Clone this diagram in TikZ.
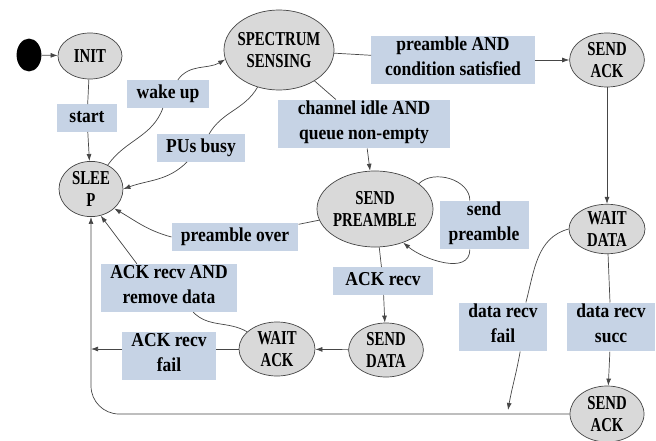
\documentclass[tikz,border=0pt]{standalone}
\usepackage{fontspec}
\setmainfont{Liberation Serif}[FakeStretch=0.89]
\newfontfamily\statefont{Liberation Serif}[FakeStretch=0.75]
\usetikzlibrary{shapes.geometric,arrows.meta}

\definecolor{stategray}{RGB}{217,217,217}
\definecolor{condblue}{RGB}{198,211,229}
\definecolor{linegray}{RGB}{70,70,70}

\tikzset{
  state/.style={ellipse,draw=linegray,line width=0.5pt,fill=stategray,inner xsep=-4pt,inner ysep=0pt,
    align=center,font=\statefont\bfseries\fontsize{14}{15.6}\selectfont},
  cond/.style={rectangle,fill=condblue,inner xsep=6.5pt,inner ysep=1pt,align=center,
    font=\bfseries\fontsize{14}{17.5}\selectfont,execute at begin node=\strut,execute at end node=\strut},
  trans/.style={draw=linegray,line width=0.5pt},
  arr/.style={trans,-{Latex[length=5pt,width=3.5pt]}}
}

\begin{document}
\begin{tikzpicture}[x=0.025cm,y=0.025cm]
\useasboundingbox (0,0) rectangle (656,-440);
% states
\node[fill=black,ellipse,minimum width=0.62cm,minimum height=0.82cm,inner sep=0pt] (dot) at (29,-55) {};
\node[state,minimum width=1.6cm,minimum height=1.15cm] (init) at (90,-56) {INIT};
\node[state,minimum width=2.75cm,minimum height=2cm] (spec) at (279,-50) {SPECTRUM\\SENSING};
\node[state,minimum width=1.6cm,minimum height=1.38cm] (sleep) at (91,-189) {SLEE\\P};
\node[state,minimum width=1.87cm,minimum height=1.35cm] (sendack) at (607,-60) {SEND\\ACK};
\node[state,minimum width=1.9cm,minimum height=1.22cm] (waitdata) at (607,-229) {WAIT\\DATA};
\node[state,minimum width=2.9cm,minimum height=1.9cm] (sendpre) at (375,-209) {SEND\\PREAMBLE};
\node[state,minimum width=1.87cm,minimum height=1.35cm] (senddata) at (386,-350) {SEND\\DATA};
\node[state,minimum width=1.9cm,minimum height=1.35cm] (waitack) at (277,-349) {WAIT\\ACK};
\node[state,minimum width=1.85cm,minimum height=1.4cm] (sendack2) at (607,-414) {SEND\\ACK};
% conditions
\node[cond,minimum width=1.48cm] (lstart) at (87,-118) {start};
\node[cond] (lwake) at (168,-94) {wake up};
\node[cond] (lbusy) at (201,-148) {PUs busy};
\node[cond,minimum width=4.08cm] (lcond) at (453,-60) {preamble AND\\condition satisfied};
\node[cond,minimum width=4.3cm] (lidle) at (364,-124) {channel idle AND\\queue non-empty};
\node[cond] (lsendpre) at (484,-225) {send\\preamble};
\node[cond] (lover) at (235,-237) {preamble over};
\node[cond] (lremove) at (169,-288) {ACK recv AND\\remove data};
\node[cond] (lfail) at (169,-356) {ACK recv\\fail};
\node[cond,minimum width=2.5cm] (lackrecv) at (383,-281) {ACK recv};
\node[cond] (ldfail) at (503,-327) {data recv\\fail};
\node[cond] (ldsucc) at (611,-327) {data recv\\succ};
\coordinate (failend) at (508,-410);
% transitions
\draw[arr] (dot) -- (init);
\draw[trans] (init) -- (lstart);
\draw[arr] (lstart) -- (sleep);
\draw[trans] (sleep) to[out=55,in=-110] (lwake);
\draw[arr] (lwake) to[out=55,in=210] (spec.190);
\draw[trans] (spec) to[out=-120,in=60] (lbusy);
\draw[arr] (lbusy) to[out=-135,in=20] (sleep.east);
\draw[trans] (spec) -- (lcond);
\draw[arr] (lcond) -- (sendack);
\draw[trans] (spec) -- (lidle);
\draw[arr] (lidle) -- (sendpre);
\draw[trans] (sendpre.30) to[out=45,in=90] (lsendpre.120);
\draw[arr] (lsendpre.-120) to[out=-90,in=-40] (sendpre.-50);
\draw[trans] (sendpre) -- (lover);
\draw[arr] (lover.west) to[out=165,in=-30] (sleep.-40);
\draw[trans] (sendpre) -- (lackrecv);
\draw[arr] (lackrecv) -- (senddata);
\draw[arr] (senddata) -- (waitack);
\draw[trans] (waitack) to[out=150,in=-45] (lremove);
\draw[arr] (lremove.143) -- (sleep.-70);
\draw[trans] (waitack.west) -- (waitack.west -| lfail.east);
\draw[arr] (waitack.west -| lfail.west) -- (waitack.west -| sleep.south);
\draw[arr] (sendack) -- (waitdata);
\draw[trans] (waitdata) -- (ldsucc);
\draw[arr] (ldsucc) -- (sendack2);
\draw[trans] (waitdata.west) to[out=195,in=75] (ldfail.47);
\draw[arr] (ldfail.-55) to[out=-100,in=80] (failend);
\draw[arr,rounded corners=20pt] (sendack2.west) -- (sendack2.west -| sleep.south) -- (sleep.south);
\end{tikzpicture}
\end{document}
